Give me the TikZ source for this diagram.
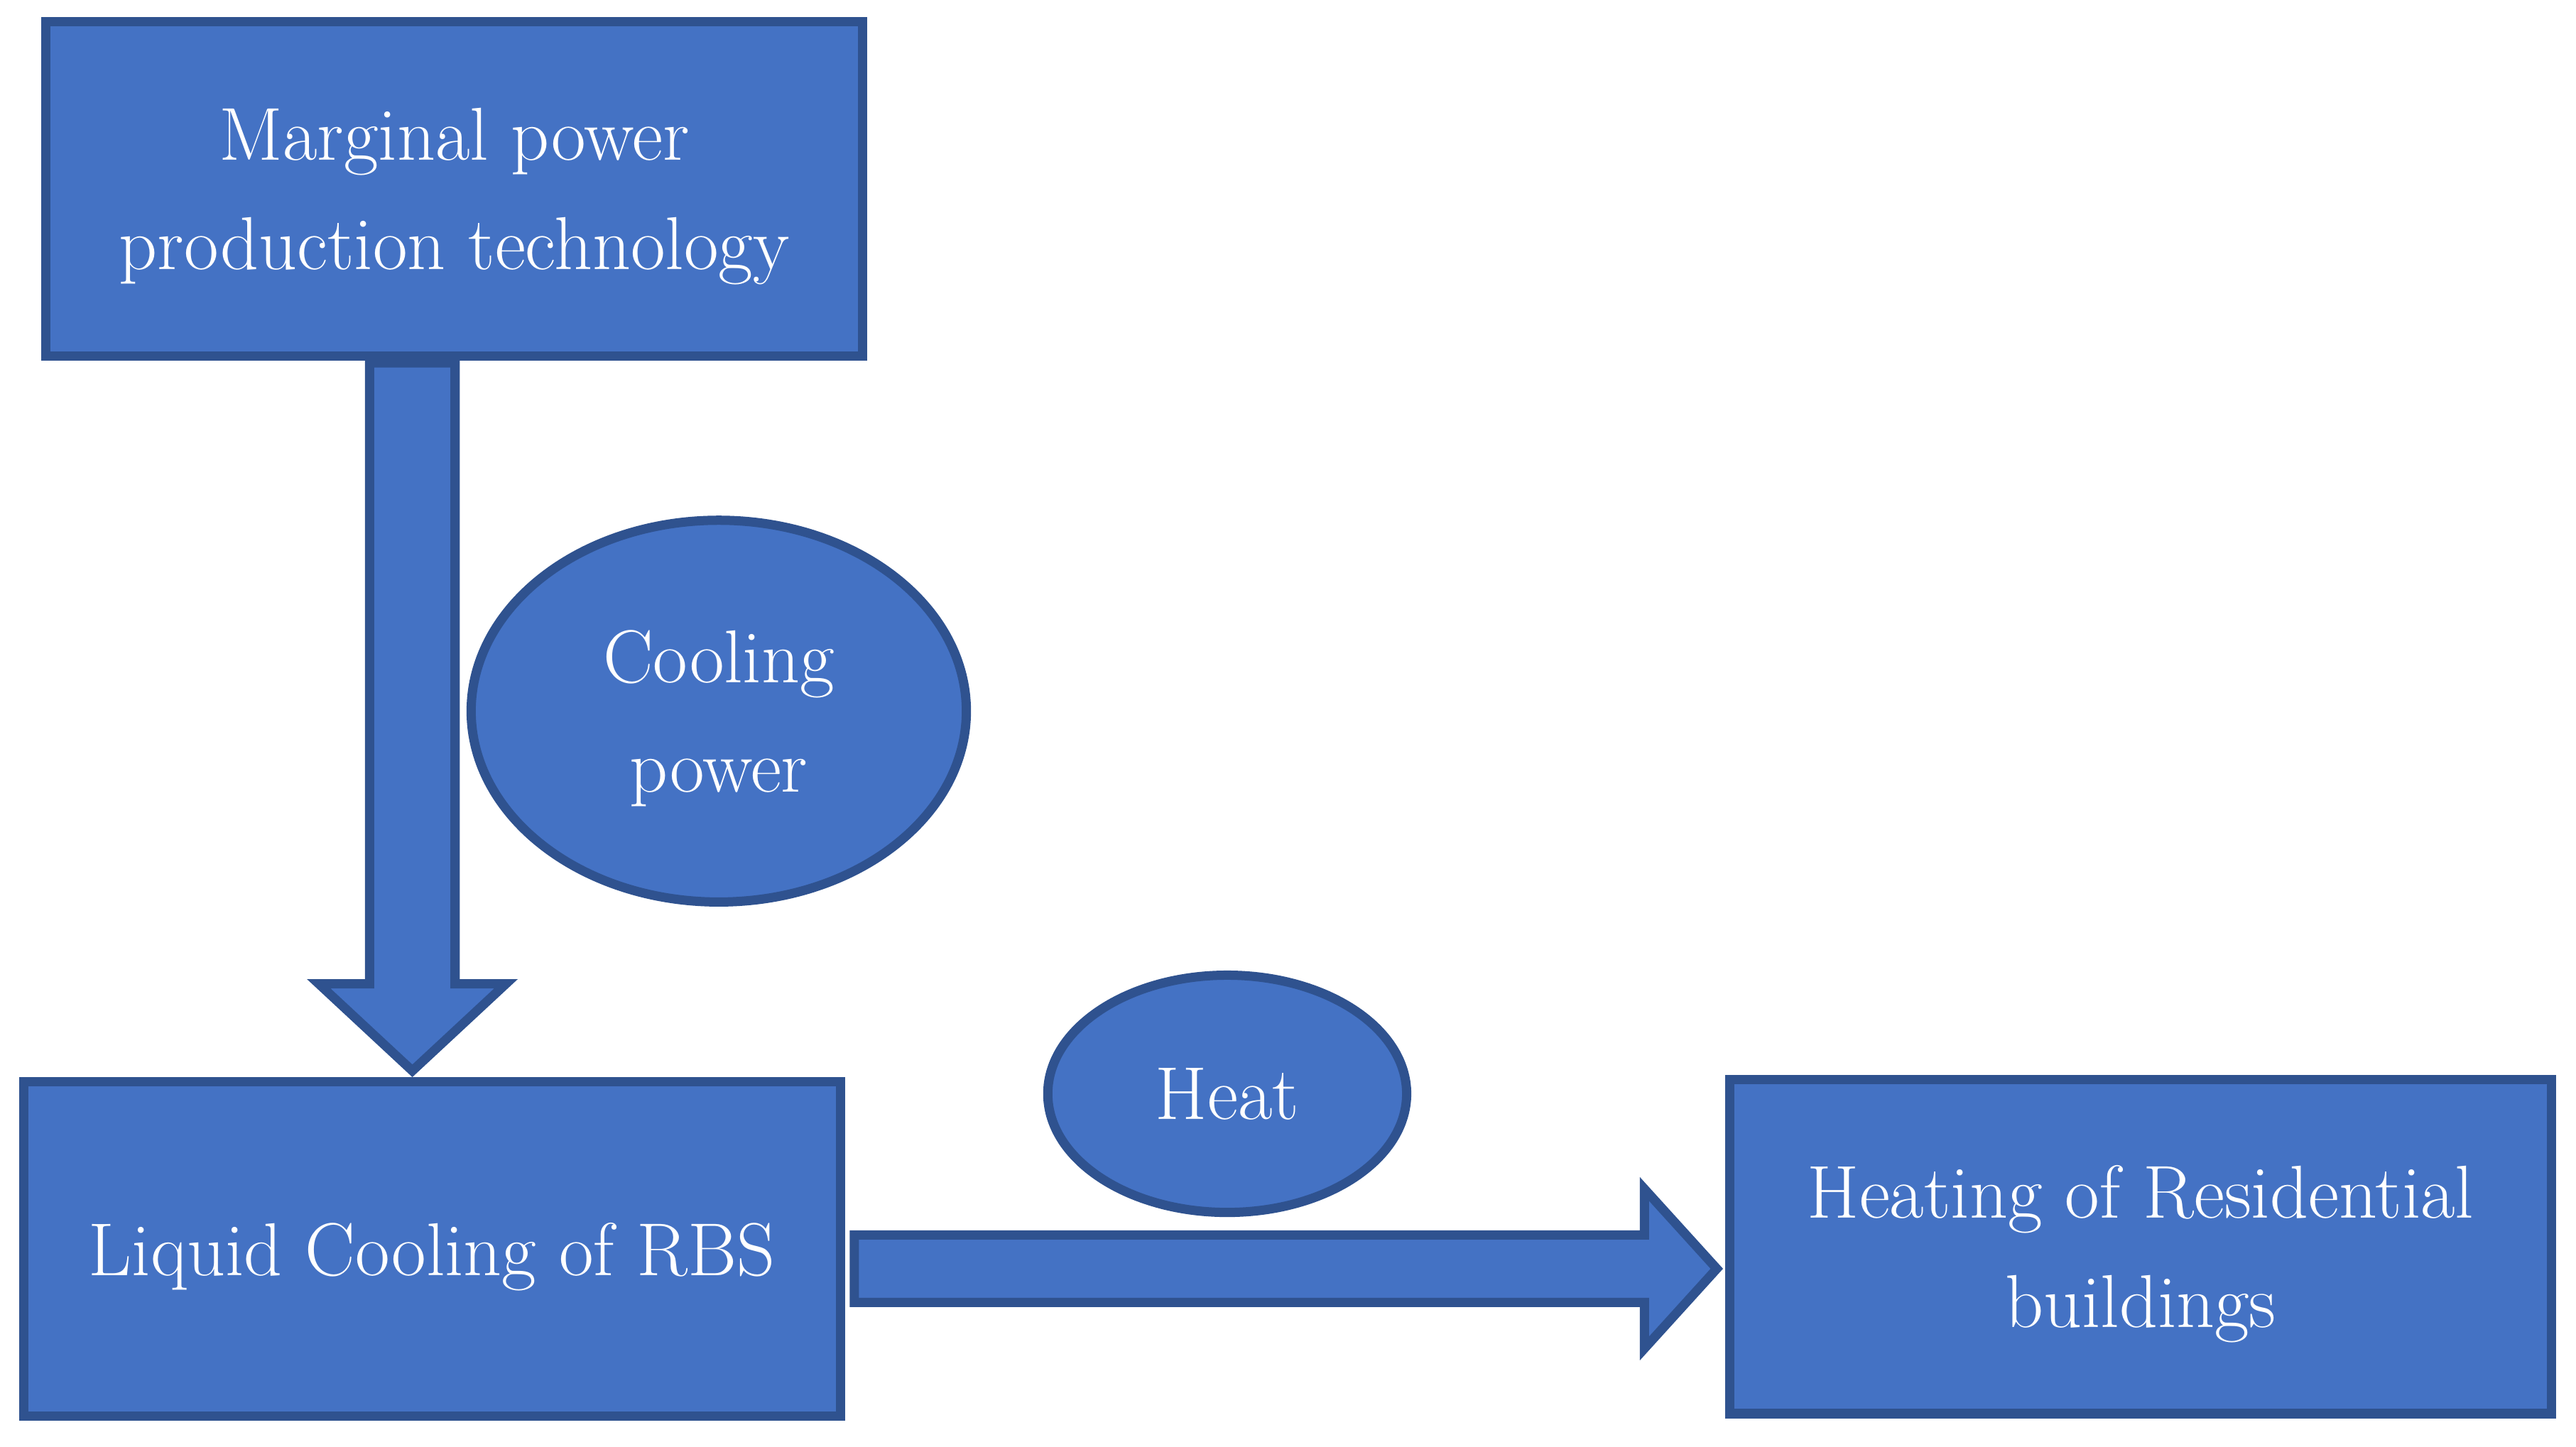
\documentclass[tikz,border=0pt]{standalone}
\usepackage{fontspec}
\usetikzlibrary{shapes.geometric}
\definecolor{boxfill}{HTML}{4472C4}
\definecolor{boxline}{HTML}{2F528F}
\tikzset{
    block/.style={draw=boxline, fill=boxfill, line width=3.2pt, text=white, align=center,
        inner sep=0pt, minimum width=9.95cm, minimum height=4.07cm, text depth=0pt,
        font=\fontsize{26}{38}\selectfont},
    bubble/.style={block, ellipse},
    fatarrow/.style={draw=boxline, fill=boxfill, line width=3.2pt, line join=miter}
}
\begin{document}
\begin{tikzpicture}[x=0.02cm, y=-0.02cm]
        \useasboundingbox (0,0) rectangle (1568,881);
        \node[block] (prod) at (276.5, 115) {Marginal power\\production technology};
        \node[block] (rbs) at (263, 760.5) {Liquid Cooling of RBS};
        \node[block, minimum width=10.01cm] (house) at (1303, 759) {Heating of Residential\\buildings};
        \node[bubble, minimum width=6.03cm, minimum height=4.65cm] (cool) at (437.5, 433) {Cooling\\power};
        \node[bubble, minimum width=4.37cm, minimum height=2.89cm] (heat) at (747, 666) {Heat};
        \coordinate (dtip) at (251, 652);
        \coordinate (rtip) at (1045, 772.5);
        \draw[fatarrow] (225, 221) -- (225, 599) -- (194, 599) -- (dtip) -- (308, 599) -- (277, 599) -- (277, 221) -- cycle;
        \draw[fatarrow] (520, 752) -- (1001, 752) -- (1001, 724) -- (rtip) -- (1001, 821) -- (1001, 793) -- (520, 793) -- cycle;
    \end{tikzpicture}
\end{document}
